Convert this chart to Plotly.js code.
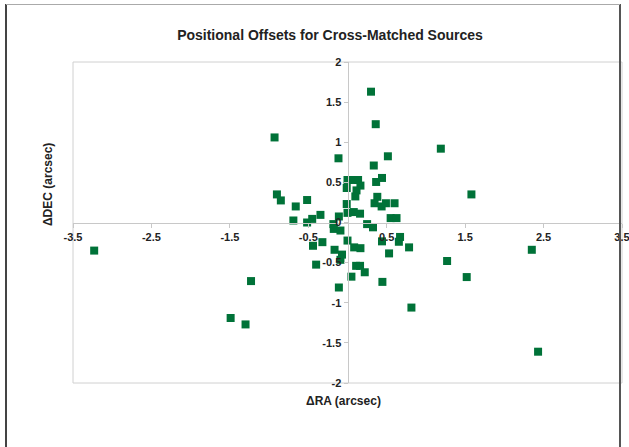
<!DOCTYPE html>
<html>
<head>
<meta charset="utf-8">
<script src="https://cdn.plot.ly/plotly-3.0.1.min.js"></script>
<style>html,body{margin:0;padding:0;background:#fff;}#chart{width:629px;height:447px;}</style>
</head>
<body>
<div id="chart"></div>
<script>
// ΔRA (arcsec)
const raOffsets = [
  -3.23, -0.93, -1.49, -1.30, -1.23, -0.90, -0.85, -0.66, -0.515, -0.69,
  -0.515, -0.45, -0.345, -0.115, -0.18, -0.175, -0.09, -0.11, -0.44, -0.32,
  -0.40, -0.165, -0.07, -0.09, 0.05, -0.11, 0.0, 0.085, 0.165, 0.11,
  0.16, 0.22, 0.445, 0.815, 1.27, 1.52, 2.35, 2.43, 0.44, 0.67,
  0.655, 0.53, 0.785, 0.30, 0.36, 1.19, 1.58, 0.515, 0.335, 0.44,
  0.365, 0.0, 0.075, 0.135, 0.165, 0.115, 0.10, -0.01, -0.01, 0.38,
  0.345, 0.435, 0.49, 0.60, 0.55, 0.625, 0.0, 0.08, 0.16, 0.25, 0.325
];
// ΔDEC (arcsec)
const decOffsets = [
  -0.35, 1.06, -1.19, -1.27, -0.73, 0.35, 0.275, 0.20, 0.28, 0.025,
  0.0, 0.045, 0.095, 0.80, -0.02, -0.08, -0.10, 0.075, -0.29, -0.245,
  -0.525, -0.34, -0.40, -0.465, -0.675, -0.81, -0.225, -0.31, -0.32, -0.54,
  -0.54, -0.62, -0.74, -1.06, -0.48, -0.68, -0.34, -1.61, -0.235, -0.18,
  -0.24, -0.385, -0.31, 1.63, 1.225, 0.92, 0.35, 0.825, 0.71, 0.555,
  0.505, 0.53, 0.53, 0.53, 0.46, 0.40, 0.325, 0.43, 0.23, 0.32,
  0.24, 0.20, 0.24, 0.24, 0.055, 0.055, 0.12, 0.13, 0.11, -0.02, -0.06
];
const xTickVals = [-3.5, -2.5, -1.5, -0.5, 0.5, 1.5, 2.5, 3.5];
const yTickVals = [-2, -1.5, -1, -0.5, 0, 0.5, 1, 1.5, 2];

const W = 629, H = 447;
const L = 73, R = 7, T = 62, B = 64;
const pw = W - L - R, ph = H - T - B;
const px = v => (v - L) / pw;
const py = v => (H - B - v) / ph;

const font = {family: 'Liberation Sans, Arial, sans-serif', color: '#222'};

const trace = {
  x: raOffsets, y: decOffsets, type: 'scatter', mode: 'markers',
  marker: {symbol: 'square', size: 8, color: '#007238'},
  hoverinfo: 'x+y'
};

const layout = {
  width: W, height: H,
  margin: {l: L, r: R, t: T, b: B, pad: 0},
  paper_bgcolor: '#fff', plot_bgcolor: '#fff',
  showlegend: false,
  title: {text: '<b>Positional Offsets for Cross-Matched Sources</b>',
          x: 330 / W, xanchor: 'center', xref: 'container',
          y: 1 - 35 / H, yanchor: 'middle', yref: 'container',
          font: Object.assign({}, font, {size: 14})},
  xaxis: {
    range: [-3.5, 3.5], tickvals: xTickVals, ticktext: xTickVals.map(String),
    anchor: 'free', position: 0.5,
    showgrid: false, zeroline: false,
    showline: true, linecolor: '#c8c8c8', linewidth: 1,
    ticks: 'outside', ticklen: 4, tickcolor: '#c8c8c8',
    ticklabeloverflow: 'allow',
    tickfont: Object.assign({}, font, {size: 11, weight: 'bold'}),
    fixedrange: true
  },
  yaxis: {
    range: [-2, 2], tickvals: yTickVals, ticktext: yTickVals.map(String),
    anchor: 'free', position: 0.5,
    showgrid: false, zeroline: false,
    showline: true, linecolor: '#c8c8c8', linewidth: 1,
    ticks: 'outside', ticklen: 4, tickcolor: '#c8c8c8',
    ticklabeloverflow: 'allow',
    tickfont: Object.assign({}, font, {size: 11, weight: 'bold'}),
    fixedrange: true
  },
  shapes: [
    {type: 'rect', xref: 'paper', yref: 'paper', x0: 0, x1: 1, y0: 0, y1: 1,
     line: {color: '#d0d0d0', width: 1}, layer: 'below'},
    {type: 'line', xref: 'paper', yref: 'paper', x0: px(6), x1: px(6), y0: py(4), y1: py(450),
     line: {color: '#444', width: 2}},
    {type: 'line', xref: 'paper', yref: 'paper', x0: px(620), x1: px(620), y0: py(4), y1: py(450),
     line: {color: '#555', width: 2}},
    {type: 'line', xref: 'paper', yref: 'paper', x0: px(6), x1: px(620), y0: py(4.5), y1: py(4.5),
     line: {color: '#aaa', width: 1}}
  ],
  annotations: [
    {text: '<b>ΔRA (arcsec)</b>', xref: 'paper', yref: 'paper',
     x: px(343), y: py(401), xanchor: 'center', yanchor: 'middle',
     showarrow: false, font: Object.assign({}, font, {size: 12})},
    {text: '<b>ΔDEC (arcsec)</b>', xref: 'paper', yref: 'paper',
     x: px(48), y: py(185), xanchor: 'center', yanchor: 'middle', textangle: -90,
     showarrow: false, font: Object.assign({}, font, {size: 12})}
  ]
};

Plotly.newPlot('chart', [trace], layout, {displayModeBar: false, staticPlot: true});
</script>
</body>
</html>
